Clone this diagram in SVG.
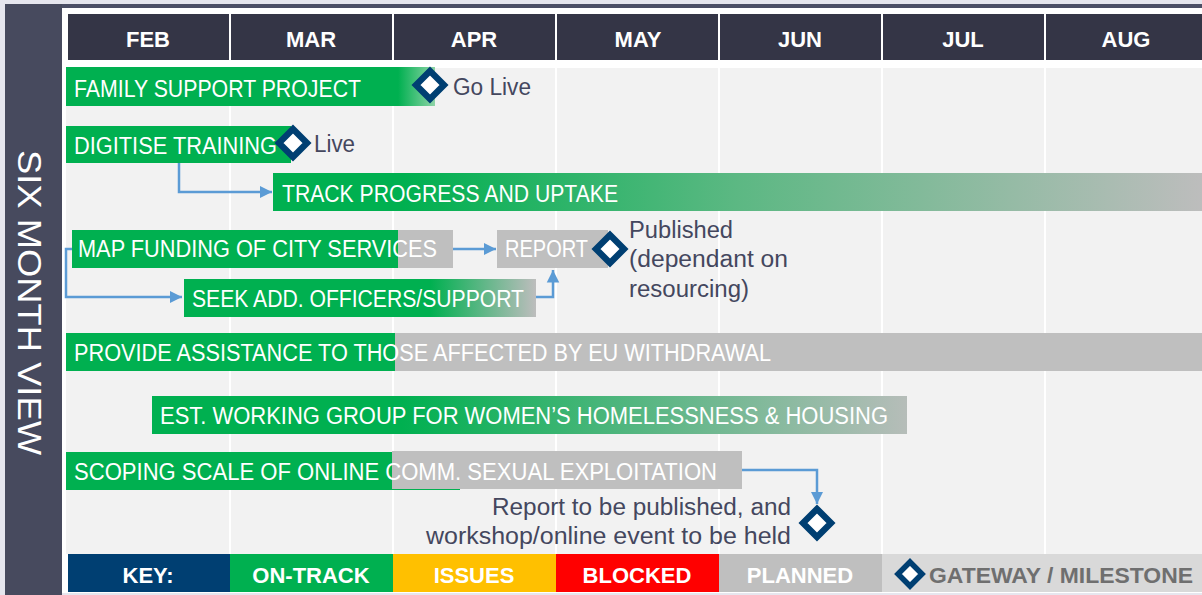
<svg xmlns="http://www.w3.org/2000/svg" width="1202" height="595" viewBox="0 0 1202 595">
<style>
.hdr{fill:#343546}
.col{fill:#f2f2f2}
.mon{font-family:"Liberation Sans",Arial,sans-serif;font-weight:bold;font-size:22px;fill:#fff;text-anchor:middle}
.bar{font-family:"Liberation Sans",Arial,sans-serif;font-size:23px;fill:#fff}
.note{font-family:"Liberation Sans",Arial,sans-serif;font-size:23px;fill:#44475e}
.key{font-family:"Liberation Sans",Arial,sans-serif;font-weight:bold;font-size:22px;fill:#fff;text-anchor:middle}
.green{fill:#00b050}
.grey{fill:#bfbfbf}
.ms{fill:#fff;stroke:#003f72;stroke-width:6.4}
.conn{fill:none;stroke:#5b9bd5;stroke-width:2.5}
</style>
<defs>
<marker id="arr" viewBox="0 0 10 10" refX="10" refY="5" markerWidth="5" markerHeight="5.4" markerUnits="strokeWidth" orient="auto">
<path d="M0,0 L10,5 L0,10 Z" fill="#5b9bd5"/>
</marker>
<linearGradient id="gFam" x1="0" x2="1" y1="0" y2="0">
<stop offset="0" stop-color="#00b050"/><stop offset="0.9" stop-color="#00b050"/><stop offset="1" stop-color="#8fd4a8"/>
</linearGradient>
<linearGradient id="gTrack" x1="0" x2="1" y1="0" y2="0">
<stop offset="0" stop-color="#00b050"/><stop offset="0.14" stop-color="#00b050"/><stop offset="0.5" stop-color="#5cb883"/><stop offset="1" stop-color="#bdbdbd"/>
</linearGradient>
<linearGradient id="gSeek" x1="0" x2="1" y1="0" y2="0">
<stop offset="0" stop-color="#00b050"/><stop offset="0.7" stop-color="#00b050"/><stop offset="1" stop-color="#bdbdbd"/>
</linearGradient>
<linearGradient id="gEst" x1="0" x2="1" y1="0" y2="0">
<stop offset="0" stop-color="#00b050"/><stop offset="0.33" stop-color="#00b050"/><stop offset="1" stop-color="#b6bdb9"/>
</linearGradient>
</defs>

<!-- background -->
<rect x="0" y="0" width="1202" height="595" fill="#e6e6ee"/>
<rect x="5" y="8" width="1197" height="585" fill="#ffffff"/>
<rect x="5" y="4" width="1197" height="4" fill="#4c4f66"/>
<rect x="5" y="4" width="57" height="591" fill="#474a5e"/>
<text transform="translate(18,150) rotate(90)" font-family="'Liberation Sans',Arial,sans-serif" font-size="34" fill="#ffffff" textLength="305" lengthAdjust="spacingAndGlyphs">SIX MONTH VIEW</text>

<!-- columns -->
<g id="columns">
<rect class="col" x="66" y="68" width="163" height="486"/>
<rect class="col" x="231" y="68" width="161" height="486"/>
<rect class="col" x="394" y="68" width="161" height="486"/>
<rect class="col" x="557" y="68" width="161" height="486"/>
<rect class="col" x="720" y="68" width="161" height="486"/>
<rect class="col" x="883" y="68" width="161" height="486"/>
<rect class="col" x="1046" y="68" width="156" height="486"/>
</g>
<g id="header">
<rect class="hdr" x="68" y="14" width="161" height="46"/>
<rect class="hdr" x="231" y="14" width="161" height="46"/>
<rect class="hdr" x="394" y="14" width="161" height="46"/>
<rect class="hdr" x="557" y="14" width="161" height="46"/>
<rect class="hdr" x="720" y="14" width="161" height="46"/>
<rect class="hdr" x="883" y="14" width="161" height="46"/>
<rect class="hdr" x="1046" y="14" width="156" height="46"/>
<text class="mon" x="148" y="47">FEB</text>
<text class="mon" x="311" y="47">MAR</text>
<text class="mon" x="474" y="47">APR</text>
<text class="mon" x="638" y="47">MAY</text>
<text class="mon" x="800" y="47">JUN</text>
<text class="mon" x="963" y="47">JUL</text>
<text class="mon" x="1126" y="47">AUG</text>
</g>

<!-- connectors -->
<g id="connectors">
<path class="conn" d="M179,163 V192 H272" marker-end="url(#arr)"/>
<path class="conn" d="M72,249 H66 V297 H182" marker-end="url(#arr)"/>
<path class="conn" d="M453,249 H496" marker-end="url(#arr)"/>
<path class="conn" d="M536,297 H553 V270" marker-end="url(#arr)"/>
<path class="conn" d="M742,470 H817 V504" marker-end="url(#arr)"/>
</g>

<g id="family">
<rect x="66" y="67" width="369" height="39" fill="url(#gFam)"/>
<text class="bar" x="74" y="97" textLength="287" lengthAdjust="spacingAndGlyphs">FAMILY SUPPORT PROJECT</text>
<polygon class="ms" points="430,71 444,85 430,99 416,85"/>
<text class="note" x="453" y="95" textLength="78" lengthAdjust="spacingAndGlyphs">Go Live</text>
</g>

<g id="digitise">
<rect class="green" x="66" y="126" width="225" height="37"/>
<text class="bar" x="74" y="154" textLength="203" lengthAdjust="spacingAndGlyphs">DIGITISE TRAINING</text>
<polygon class="ms" points="293,129 307,143 293,157 279,143"/>
<text class="note" x="314" y="152" textLength="41" lengthAdjust="spacingAndGlyphs">Live</text>
</g>

<g id="track">
<rect x="273" y="173" width="929" height="38" fill="url(#gTrack)"/>
<text class="bar" x="282" y="202" textLength="336" lengthAdjust="spacingAndGlyphs">TRACK PROGRESS AND UPTAKE</text>
</g>

<g id="mapfunding">
<rect class="green" x="72" y="230" width="326" height="38"/>
<rect class="grey" x="398" y="230" width="55" height="38"/>
<text class="bar" x="78" y="257" textLength="359" lengthAdjust="spacingAndGlyphs">MAP FUNDING OF CITY SERVICES</text>
</g>

<g id="report">
<rect class="grey" x="497" y="230" width="111" height="38"/>
<text class="bar" x="505" y="257" textLength="83" lengthAdjust="spacingAndGlyphs">REPORT</text>
<polygon class="ms" points="610,235 624,249 610,263 596,249"/>
<text class="note" x="629" y="238" textLength="104" lengthAdjust="spacingAndGlyphs">Published</text>
<text class="note" x="629" y="267" textLength="159" lengthAdjust="spacingAndGlyphs">(dependant on</text>
<text class="note" x="629" y="297" textLength="120" lengthAdjust="spacingAndGlyphs">resourcing)</text>
</g>

<g id="seek">
<rect x="184" y="279" width="352" height="38" fill="url(#gSeek)"/>
<text class="bar" x="192" y="307" textLength="332" lengthAdjust="spacingAndGlyphs">SEEK ADD. OFFICERS/SUPPORT</text>
</g>

<g id="provide">
<rect class="green" x="66" y="333" width="329" height="38"/>
<rect class="grey" x="395" y="333" width="807" height="38"/>
<text class="bar" x="74" y="361" textLength="697" lengthAdjust="spacingAndGlyphs">PROVIDE ASSISTANCE TO THOSE AFFECTED BY EU WITHDRAWAL</text>
</g>

<g id="est">
<rect x="152" y="396" width="755" height="38" fill="url(#gEst)"/>
<text class="bar" x="160" y="424" textLength="728" lengthAdjust="spacingAndGlyphs">EST. WORKING GROUP FOR WOMEN’S HOMELESSNESS &amp; HOUSING</text>
</g>

<g id="scoping">
<rect class="green" x="66" y="452" width="326" height="38"/>
<rect class="green" x="392" y="488" width="68" height="2"/>
<rect class="grey" x="392" y="451" width="350" height="38"/>
<text class="bar" x="74" y="480" textLength="643" lengthAdjust="spacingAndGlyphs">SCOPING SCALE OF ONLINE COMM. SEXUAL EXPLOITATION</text>
<polygon class="ms" points="817,509 831,523 817,537 803,523"/>
<text class="note" x="791" y="515" text-anchor="end" textLength="299" lengthAdjust="spacingAndGlyphs">Report to be published, and</text>
<text class="note" x="791" y="544" text-anchor="end" textLength="365" lengthAdjust="spacingAndGlyphs">workshop/online event to be held</text>
</g>

<g id="key">
<rect x="68" y="554" width="162" height="38" fill="#003f72"/>
<rect x="230" y="554" width="163" height="38" fill="#00b050"/>
<rect x="393" y="554" width="163" height="38" fill="#ffc000"/>
<rect x="556" y="554" width="163" height="38" fill="#ff0000"/>
<rect x="719" y="554" width="163" height="38" fill="#bfbfbf"/>
<rect x="882" y="554" width="320" height="38" fill="#d9d9d9"/>
<text class="key" x="148" y="583">KEY:</text>
<text class="key" x="311" y="583">ON-TRACK</text>
<text class="key" x="474" y="583">ISSUES</text>
<text class="key" x="637" y="583">BLOCKED</text>
<text class="key" x="800" y="583">PLANNED</text>
<polygon fill="#fff" stroke="#003f72" stroke-width="5.5" points="910,562 922,574 910,586 898,574"/>
<text x="929" y="583" font-family="'Liberation Sans',Arial,sans-serif" font-weight="bold" font-size="22" fill="#6f6f6f" textLength="264" lengthAdjust="spacingAndGlyphs">GATEWAY / MILESTONE</text>
</g>
</svg>
